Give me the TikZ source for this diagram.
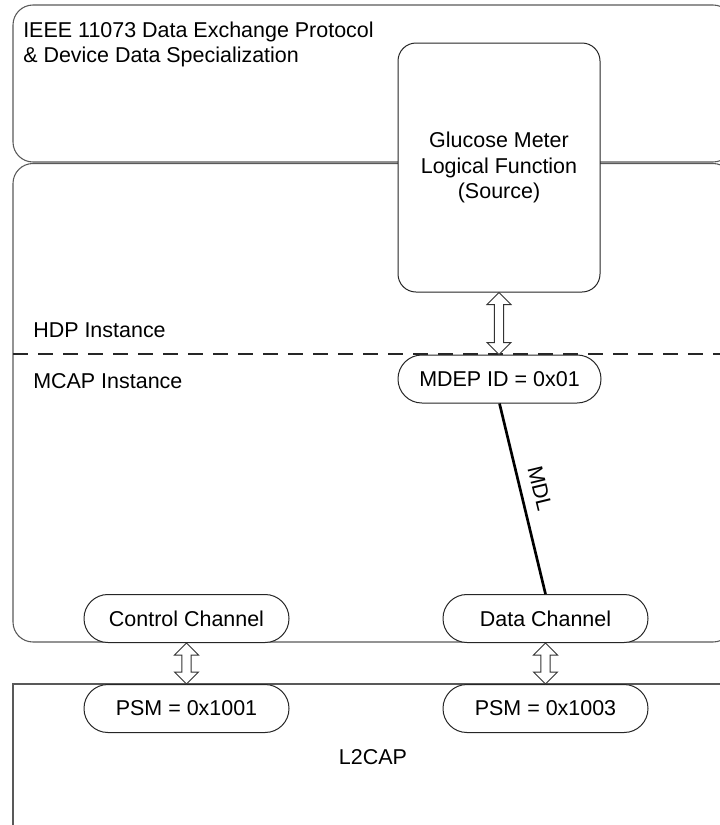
\documentclass[tikz,border=0pt]{standalone}
\usepackage{fontspec}
\setmainfont{Liberation Sans}
\usetikzlibrary{calc}

\tikzset{
  txt/.style={font=\fontsize{16.1pt}{19.2pt}\selectfont},
  layer/.style={draw=black!65, line width=0.8pt},
  lbl/.style={txt, inner sep=0pt},
  capsule/.style={txt, draw=black!85, line width=0.75pt, fill=white, rectangle,
    rounded corners=17.9pt, minimum width=153.75pt, minimum height=36pt, inner sep=0pt},
  funcbox/.style={txt, draw=black!85, line width=0.75pt, fill=white, rectangle,
    rounded corners=13.5pt, minimum width=151.5pt, minimum height=186.75pt,
    align=center, inner sep=0pt},
  hollow/.style={draw=black!80, fill=white, line width=0.75pt, line join=miter},
  mdl/.style={line width=2pt},
  sepline/.style={black!85, line width=1.1pt, dash pattern=on 11.25pt off 7.5pt},
}

% hollow two-headed block arrow from the bottom of #1 to the top of #2
\newcommand\hollowarrow[2]{%
  \draw[hollow] let \p1=(#1.south), \p2=(#2.north) in
    (\x1,\y1) -- (\x1+9pt,\y1-9pt) -- (\x1+3.4pt,\y1-9pt) -- (\x1+3.4pt,\y2+9pt)
    -- (\x1+9pt,\y2+9pt) -- (\x1,\y2) -- (\x1-9pt,\y2+9pt) -- (\x1-3.4pt,\y2+9pt)
    -- (\x1-3.4pt,\y1-9pt) -- (\x1-9pt,\y1-9pt) -- cycle;}

\begin{document}
\begin{tikzpicture}[x=0.75pt, y=-0.75pt]
  \useasboundingbox (0,0) rectangle (720,825);

  % protocol layers (they run on past the right edge)
  \begin{scope}
    \clip (0,0) rectangle (720,825);
    \draw[layer, rounded corners=15pt] (13,5) rectangle (733,162);
    \draw[layer, rounded corners=15pt] (13,163.5) rectangle (733,642);
    \draw[layer] (13,840) -- (13,684) -- (740,684);
  \end{scope}

  \node[lbl, anchor=north west, align=left] (ieee) at (23,21.5)
    {IEEE 11073 Data Exchange Protocol\\\& Device Data Specialization};

  % glucose meter function
  \node[funcbox] (glu) at (499,167.5) {Glucose Meter\\Logical Function\\(Source)};

  % HDP / MCAP boundary
  \coordinate (sepL) at (13,354);
  \coordinate (sepR) at (720,354);
  \draw[sepline] (sepL) -- (sepR);

  \node[lbl, anchor=west] (hdp) at (33,330) {HDP Instance};
  \node[lbl, anchor=west] (mcap) at (33,381) {MCAP Instance};

  \node[capsule, minimum width=152.25pt] (mdep) at (499.5,379) {MDEP ID = 0x01};

  \node[capsule] (ctl) at (186.5,618.5) {Control Channel};
  \node[capsule] (dch) at (545.5,618.5) {Data Channel};

  \node[capsule] (psmA) at (186.5,708.5) {PSM = 0x1001};
  \node[capsule] (psmB) at (545.5,708.5) {PSM = 0x1003};

  \node[lbl] (l2cap) at (373,757) {L2CAP};

  % links
  \hollowarrow{glu}{mdep}
  \hollowarrow{ctl}{psmA}
  \hollowarrow{dch}{psmB}

  \draw[mdl] (mdep.south) -- node[lbl, pos=0.47, sloped, above, inner sep=8pt] {MDL} (dch.north);
\end{tikzpicture}
\end{document}
